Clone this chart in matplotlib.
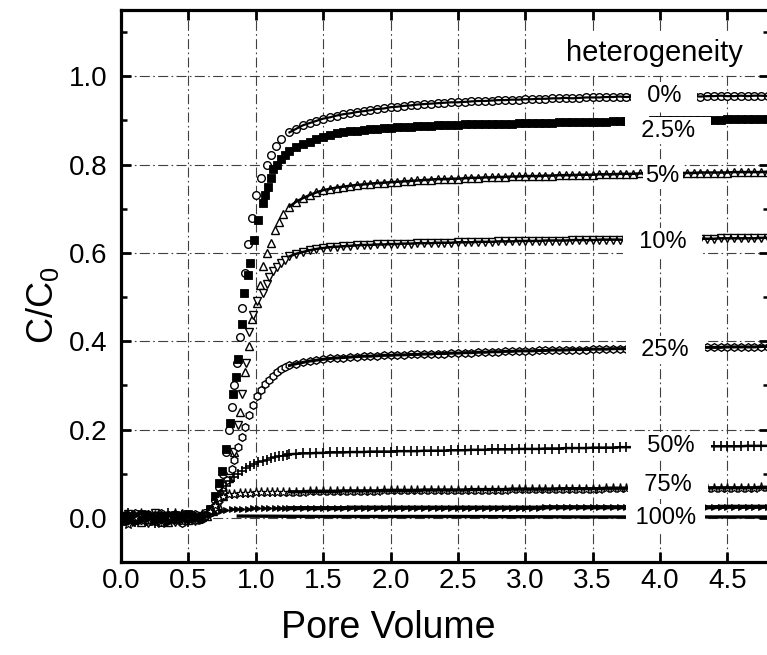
import matplotlib
matplotlib.use("Agg")
import matplotlib.pyplot as plt
import numpy as np

plt.rcParams['font.family'] = ['Liberation Sans', 'DejaVu Sans']
plt.rcParams['mathtext.default'] = 'regular'

# -----------------------
# Breakthrough data, C/C0 vs pore volume
# -----------------------
# early part (before breakthrough), shared sampling
pv_early = [0.00, 0.05, 0.10, 0.15, 0.20, 0.25, 0.30, 0.35, 0.40, 0.45, 0.50, 0.55, 0.60]

# plateau part, shared sampling
pv_flat = [1.25, 1.30, 1.35, 1.40, 1.45, 1.50, 1.55, 1.60, 1.65, 1.70, 1.75, 1.80,
           1.85, 1.90, 1.95, 2.00, 2.05, 2.10, 2.15, 2.20, 2.25, 2.30, 2.35, 2.40,
           2.45, 2.50, 2.55, 2.60, 2.65, 2.70, 2.75, 2.80, 2.85, 2.90, 2.95, 3.00,
           3.05, 3.10, 3.15, 3.20, 3.25, 3.30, 3.35, 3.40, 3.45, 3.50, 3.55, 3.60,
           3.65, 3.70, 3.75, 3.80, 3.85, 3.90, 3.95, 4.00, 4.05, 4.10, 4.15, 4.20,
           4.25, 4.30, 4.35, 4.40, 4.45, 4.50, 4.55, 4.60, 4.65, 4.70, 4.75, 4.80]

# 0 %
h0_early = [0.004, -0.006, 0.008, -0.003, 0.006, -0.008, 0.002, 0.007, -0.005, 0.004, -0.002, 0.006, 0.003]
h0_rise_pv = [0.62, 0.66, 0.70, 0.73, 0.76, 0.78, 0.80, 0.82, 0.84, 0.86, 0.88, 0.90, 0.92,
              0.94, 0.97, 1.00, 1.04, 1.08, 1.11, 1.15, 1.19]
h0_rise = [0.010, 0.020, 0.040, 0.070, 0.100, 0.150, 0.200, 0.250, 0.300, 0.350, 0.410, 0.475, 0.555,
           0.620, 0.680, 0.730, 0.770, 0.800, 0.822, 0.842, 0.857]
h0_flat = [0.873, 0.881, 0.889, 0.894, 0.899, 0.904, 0.907, 0.911, 0.914, 0.916, 0.919, 0.921,
           0.923, 0.926, 0.927, 0.930, 0.931, 0.933, 0.934, 0.936, 0.937, 0.938, 0.939, 0.940,
           0.941, 0.941, 0.942, 0.943, 0.944, 0.944, 0.945, 0.946, 0.946, 0.947, 0.947, 0.948,
           0.948, 0.949, 0.949, 0.950, 0.950, 0.951, 0.950, 0.951, 0.952, 0.952, 0.952, 0.953,
           0.953, 0.954, 0.953, 0.954, 0.954, 0.955, 0.954, 0.955, 0.954, 0.955, 0.955, 0.954,
           0.955, 0.954, 0.955, 0.955, 0.956, 0.955, 0.955, 0.956, 0.955, 0.956, 0.956, 0.955]

# 2.5 %
h25_early = [-0.008, 0.005, -0.004, 0.009, -0.007, 0.003, -0.009, 0.001, 0.006, -0.006, 0.008, -0.003, 0.002]
h25_rise_pv = [0.62, 0.66, 0.70, 0.73, 0.75, 0.78, 0.81, 0.83, 0.85, 0.87, 0.90, 0.91, 0.94,
               0.96, 0.99, 1.02, 1.05, 1.07, 1.09, 1.11, 1.13, 1.16, 1.19, 1.22]
h25_rise = [0.005, 0.020, 0.050, 0.080, 0.105, 0.155, 0.215, 0.280, 0.320, 0.360, 0.440, 0.510, 0.550,
            0.578, 0.630, 0.675, 0.713, 0.730, 0.750, 0.770, 0.790, 0.800, 0.812, 0.822]
h25_flat = [0.830, 0.839, 0.846, 0.852, 0.858, 0.863, 0.868, 0.871, 0.873, 0.875, 0.877, 0.879,
            0.880, 0.881, 0.882, 0.883, 0.884, 0.885, 0.886, 0.887, 0.888, 0.888, 0.889, 0.889,
            0.890, 0.890, 0.891, 0.891, 0.891, 0.892, 0.892, 0.893, 0.893, 0.893, 0.894, 0.894,
            0.894, 0.895, 0.895, 0.895, 0.896, 0.896, 0.896, 0.896, 0.897, 0.897, 0.897, 0.897,
            0.898, 0.898, 0.898, 0.899, 0.899, 0.899, 0.900, 0.900, 0.900, 0.901, 0.901, 0.901,
            0.901, 0.902, 0.902, 0.902, 0.902, 0.903, 0.903, 0.903, 0.903, 0.904, 0.904, 0.904]

# 5 %
h5_early = [0.010, -0.002, 0.006, -0.010, 0.002, 0.008, -0.004, -0.009, 0.003, 0.010, -0.005, 0.002, 0.007]
h5_rise_pv = [0.64, 0.68, 0.72, 0.76, 0.80, 0.84, 0.88, 0.92, 0.95, 0.97, 1.01, 1.03, 1.05,
              1.08, 1.11, 1.14, 1.17, 1.20]
h5_rise = [0.005, 0.015, 0.030, 0.050, 0.090, 0.150, 0.240, 0.330, 0.390, 0.450, 0.487, 0.528, 0.570,
           0.600, 0.623, 0.652, 0.670, 0.688]
h5_flat = [0.705, 0.716, 0.724, 0.731, 0.737, 0.742, 0.745, 0.748, 0.750, 0.752, 0.754, 0.755,
           0.757, 0.758, 0.759, 0.760, 0.761, 0.762, 0.763, 0.764, 0.765, 0.766, 0.767, 0.767,
           0.768, 0.768, 0.769, 0.770, 0.770, 0.771, 0.771, 0.772, 0.772, 0.773, 0.773, 0.774,
           0.774, 0.774, 0.775, 0.775, 0.776, 0.776, 0.776, 0.777, 0.777, 0.777, 0.778, 0.778,
           0.778, 0.779, 0.779, 0.779, 0.780, 0.780, 0.780, 0.780, 0.781, 0.781, 0.781, 0.781,
           0.781, 0.782, 0.782, 0.782, 0.782, 0.782, 0.783, 0.783, 0.783, 0.783, 0.783, 0.784]

# 10 %
h10_early = [-0.012, 0.009, -0.001, 0.004, -0.011, 0.010, 0.005, -0.002, -0.010, 0.001, 0.007, -0.008, 0.004]
h10_rise_pv = [0.64, 0.68, 0.72, 0.76, 0.80, 0.84, 0.87, 0.90, 0.93, 0.95, 0.98, 1.01, 1.05,
               1.08, 1.10, 1.13, 1.16, 1.19, 1.22]
h10_rise = [0.005, 0.015, 0.030, 0.050, 0.090, 0.150, 0.210, 0.280, 0.350, 0.420, 0.460, 0.490, 0.510,
            0.530, 0.545, 0.558, 0.568, 0.577, 0.585]
h10_flat = [0.592, 0.598, 0.602, 0.606, 0.609, 0.611, 0.613, 0.614, 0.615, 0.616, 0.617, 0.618,
            0.618, 0.619, 0.619, 0.620, 0.620, 0.621, 0.621, 0.622, 0.622, 0.622, 0.623, 0.623,
            0.623, 0.624, 0.624, 0.624, 0.625, 0.625, 0.625, 0.626, 0.626, 0.626, 0.627, 0.627,
            0.627, 0.627, 0.628, 0.628, 0.628, 0.628, 0.629, 0.629, 0.629, 0.629, 0.630, 0.630,
            0.630, 0.630, 0.630, 0.631, 0.631, 0.631, 0.631, 0.631, 0.631, 0.632, 0.632, 0.632,
            0.632, 0.632, 0.632, 0.632, 0.633, 0.633, 0.633, 0.633, 0.633, 0.633, 0.634, 0.634]

# 25 %
h250_early = [0.002, -0.010, 0.011, -0.006, 0.009, -0.003, 0.011, -0.006, 0.008, -0.011, 0.004, 0.009, -0.002]
h250_rise_pv = [0.62, 0.66, 0.70, 0.73, 0.76, 0.79, 0.82, 0.84, 0.87, 0.90, 0.92, 0.95, 0.98,
                1.01, 1.04, 1.07, 1.10, 1.13, 1.16, 1.19, 1.22]
h250_rise = [0.005, 0.012, 0.025, 0.040, 0.060, 0.085, 0.110, 0.130, 0.160, 0.183, 0.206, 0.233, 0.256,
             0.275, 0.290, 0.302, 0.313, 0.322, 0.330, 0.336, 0.341]
h250_flat = [0.345, 0.349, 0.352, 0.355, 0.357, 0.359, 0.361, 0.362, 0.363, 0.364, 0.365, 0.366,
             0.366, 0.367, 0.368, 0.368, 0.369, 0.369, 0.370, 0.370, 0.371, 0.371, 0.372, 0.372,
             0.373, 0.373, 0.374, 0.374, 0.375, 0.375, 0.376, 0.376, 0.377, 0.377, 0.378, 0.378,
             0.378, 0.379, 0.379, 0.380, 0.380, 0.380, 0.381, 0.381, 0.381, 0.382, 0.382, 0.382,
             0.383, 0.383, 0.383, 0.384, 0.384, 0.384, 0.384, 0.385, 0.385, 0.385, 0.385, 0.385,
             0.386, 0.386, 0.386, 0.386, 0.386, 0.387, 0.387, 0.387, 0.387, 0.387, 0.388, 0.388]

# 50 %
h50_early = [-0.004, 0.012, -0.009, 0.001, -0.002, -0.012, -0.006, 0.010, -0.003, 0.006, -0.010, 0.000, 0.005]
h50_rise_pv = [0.62, 0.66, 0.69, 0.72, 0.75, 0.78, 0.81, 0.84, 0.87, 0.90, 0.93, 0.96, 0.99,
               1.02, 1.05, 1.08, 1.11, 1.14, 1.17, 1.20, 1.23]
h50_rise = [0.005, 0.012, 0.025, 0.045, 0.060, 0.072, 0.083, 0.092, 0.099, 0.106, 0.112, 0.117, 0.122,
            0.126, 0.129, 0.132, 0.135, 0.137, 0.139, 0.141, 0.142]
h50_flat = [0.144, 0.145, 0.146, 0.146, 0.147, 0.147, 0.148, 0.148, 0.148, 0.149, 0.149, 0.149,
            0.150, 0.150, 0.150, 0.150, 0.151, 0.151, 0.151, 0.151, 0.152, 0.152, 0.152, 0.152,
            0.153, 0.153, 0.153, 0.154, 0.154, 0.154, 0.155, 0.155, 0.155, 0.155, 0.156, 0.156,
            0.156, 0.156, 0.157, 0.157, 0.157, 0.158, 0.158, 0.158, 0.158, 0.159, 0.159, 0.159,
            0.159, 0.160, 0.160, 0.160, 0.160, 0.160, 0.161, 0.161, 0.161, 0.161, 0.161, 0.161,
            0.161, 0.162, 0.162, 0.162, 0.162, 0.162, 0.162, 0.162, 0.163, 0.163, 0.163, 0.163]

# 75 %
h75_early = [0.007, -0.013, 0.003, 0.012, -0.005, 0.006, -0.011, 0.004, 0.011, -0.008, 0.002, -0.006, 0.008]
h75_rise_pv = [0.62, 0.66, 0.70, 0.73, 0.76, 0.80, 0.84, 0.88, 0.92, 0.96, 1.00, 1.04, 1.08,
               1.12, 1.16, 1.20]
h75_rise = [0.005, 0.015, 0.030, 0.045, 0.050, 0.053, 0.055, 0.056, 0.057, 0.057, 0.058, 0.058, 0.058,
            0.059, 0.059, 0.059]
h75_flat = [0.059, 0.059, 0.059, 0.060, 0.060, 0.060, 0.060, 0.060, 0.061, 0.061, 0.061, 0.061,
            0.061, 0.061, 0.062, 0.062, 0.062, 0.062, 0.062, 0.062, 0.063, 0.063, 0.063, 0.063,
            0.063, 0.063, 0.063, 0.064, 0.064, 0.064, 0.064, 0.064, 0.064, 0.065, 0.065, 0.065,
            0.065, 0.065, 0.065, 0.065, 0.066, 0.066, 0.066, 0.066, 0.066, 0.066, 0.066, 0.067,
            0.067, 0.067, 0.067, 0.067, 0.067, 0.067, 0.067, 0.067, 0.067, 0.068, 0.068, 0.068,
            0.068, 0.068, 0.068, 0.068, 0.068, 0.068, 0.068, 0.068, 0.068, 0.068, 0.069, 0.069]

# 100 %
h100_early = [-0.010, 0.001, -0.012, -0.007, 0.011, -0.005, 0.008, -0.012, 0.000, -0.004, 0.011, 0.004, -0.007]
h100_rise_pv = [0.62, 0.66, 0.70, 0.74, 0.78, 0.82, 0.86, 0.90, 0.94, 0.98, 1.02, 1.06, 1.10,
                1.14, 1.18, 1.22]
h100_rise = [0.004, 0.008, 0.012, 0.016, 0.018, 0.020, 0.021, 0.021, 0.021, 0.022, 0.022, 0.022, 0.022,
             0.022, 0.022, 0.022]
h100_flat = [0.022, 0.022, 0.022, 0.022, 0.022, 0.022, 0.022, 0.022, 0.022, 0.023, 0.023, 0.023,
             0.023, 0.023, 0.023, 0.023, 0.023, 0.023, 0.023, 0.023, 0.023, 0.023, 0.023, 0.023,
             0.023, 0.023, 0.023, 0.023, 0.023, 0.023, 0.023, 0.023, 0.023, 0.023, 0.023, 0.023,
             0.023, 0.023, 0.024, 0.024, 0.024, 0.024, 0.024, 0.024, 0.024, 0.024, 0.024, 0.024,
             0.024, 0.024, 0.024, 0.024, 0.024, 0.024, 0.024, 0.024, 0.024, 0.024, 0.024, 0.024,
             0.024, 0.024, 0.024, 0.024, 0.025, 0.025, 0.025, 0.025, 0.025, 0.025, 0.025, 0.025]

# baseline drawn as a solid line
base_pv = [0.87, 1.50, 2.50, 3.50, 4.80]
base_c = [0.004, 0.003, 0.003, 0.002, 0.002]

# -----------------------
# Plot
# -----------------------
fig = plt.figure(figsize=(7.67, 6.55), dpi=100)
ax = fig.add_axes([0.1578, 0.142, 0.845, 0.8427])

# (early, rise pv, rise c, plateau, marker style, band width)
series = [
    (h0_early, h0_rise_pv, h0_rise, h0_flat, dict(marker='o', ms=5.5, mfc='white', mew=1.0), 1.6),
    (h25_early, h25_rise_pv, h25_rise, h25_flat, dict(marker='s', ms=5.5, mfc='black', mew=0.6), 3.5),
    (h5_early, h5_rise_pv, h5_rise, h5_flat, dict(marker='^', ms=5.5, mfc='white', mew=1.0), 1.8),
    (h10_early, h10_rise_pv, h10_rise, h10_flat, dict(marker='v', ms=5.5, mfc='white', mew=1.0), 1.8),
    (h250_early, h250_rise_pv, h250_rise, h250_flat, dict(marker='h', ms=5.5, mfc='white', mew=1.0), 2.2),
    (h50_early, h50_rise_pv, h50_rise, h50_flat, dict(marker='+', ms=7.5, mew=1.2), 1.8),
    (h75_early, h75_rise_pv, h75_rise, h75_flat, dict(marker='*', ms=6.5, mfc='white', mew=0.9), 2.4),
    (h100_early, h100_rise_pv, h100_rise, h100_flat, dict(marker='>', ms=5, mfc='black', mew=0.6), 3.0),
]

for early, rpv, rc, flat, style, band in series:
    pv = pv_early + rpv + pv_flat
    c = early + rc + flat
    ax.plot(pv, c, color='black', mec='black', lw=0, zorder=2, **style)
    # the pre-breakthrough scatter and the plateau read as solid bands
    ax.plot(pv_early, early, color='black', lw=3.0, zorder=2)
    ax.plot(pv_flat, flat, color='black', lw=band, zorder=2)

ax.plot(base_pv, base_c, color='black', lw=2.4, zorder=2)

# curve labels, white boxes break the curves and the grid
label_pos = [
    ("  0%  ", 4.03, 0.956),
    ("  2.5%  ", 4.06, 0.877),
    ("5%", 4.02, 0.775),
    ("  10%  ", 4.02, 0.625),
    ("  25%  ", 4.04, 0.381),
    ("  50%  ", 4.08, 0.163),
    ("  75%  ", 4.06, 0.075),
    (" 100% ", 4.04, 0.0),
]
for txt, x, y in label_pos:
    ax.text(x, y, txt, fontsize=17, ha='center', va='center', zorder=5,
            bbox=dict(boxstyle='square,pad=0.12', fc='white', ec='none'))

ax.text(3.96, 1.053, "heterogeneity", fontsize=21, ha='center', va='center', zorder=5,
        bbox=dict(boxstyle='square,pad=0.2', fc='white', ec='none'))

ax.set_xlim(0, 4.81)
ax.set_ylim(-0.1, 1.15)
ax.set_xticks([0.0, 0.5, 1.0, 1.5, 2.0, 2.5, 3.0, 3.5, 4.0, 4.5])
ax.set_xticklabels(["0.0", "0.5", "1.0", "1.5", "2.0", "2.5", "3.0", "3.5", "4.0", "4.5"])
ax.set_yticks([0.0, 0.2, 0.4, 0.6, 0.8, 1.0])
ax.set_yticklabels(["0.0", "0.2", "0.4", "0.6", "0.8", "1.0"])
ax.set_yticks([-0.1, 0.1, 0.3, 0.5, 0.7, 0.9, 1.1], minor=True)

ax.tick_params(axis='both', which='major', direction='in', length=7, width=2,
               top=True, right=True, labelsize=20)
ax.tick_params(axis='x', pad=4)
ax.tick_params(axis='y', pad=10)
ax.tick_params(axis='y', which='minor', direction='in', length=4, width=1.8, right=True)

for s in ax.spines.values():
    s.set_linewidth(2.3)

ax.grid(True, which='major', color='0.25', lw=0.8, linestyle=(0, (9, 3, 1.5, 3)))
ax.set_axisbelow(True)

ax.set_xlabel("Pore Volume", fontsize=27)
ax.xaxis.set_label_coords(0.412, -0.087)
ax.set_ylabel("C/C$_0$", fontsize=26)
ax.yaxis.set_label_coords(-0.092, 0.466)

fig.savefig("out.png", dpi=100)
